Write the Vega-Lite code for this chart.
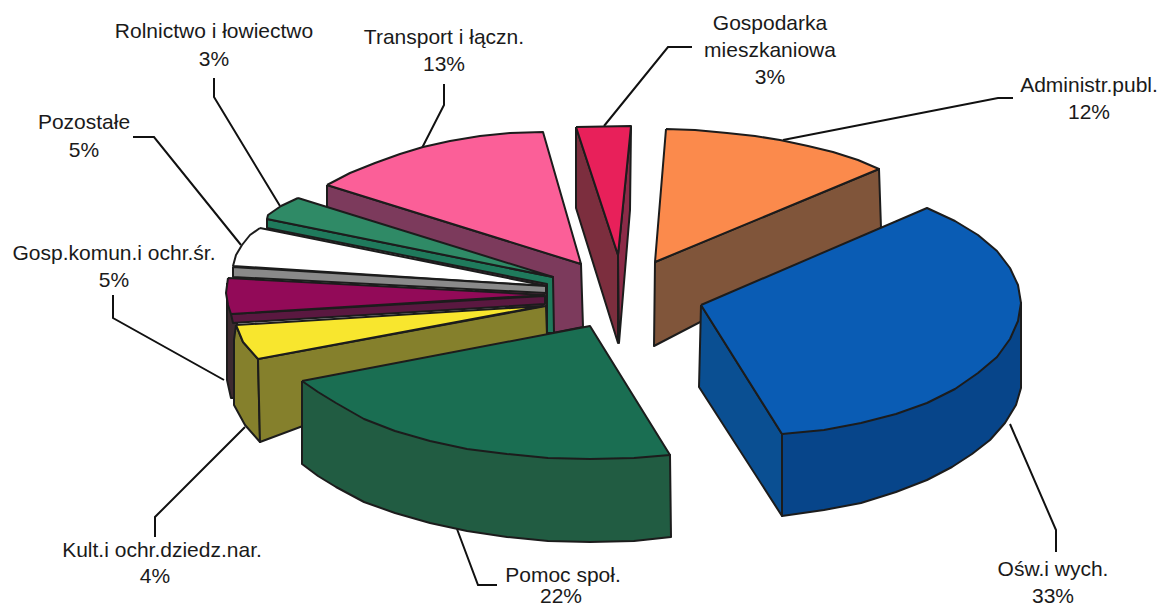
{"$schema":"https://vega.github.io/schema/vega-lite/v6.json","width":1163,"height":609,"padding":0,"autosize":"none","background":"#ffffff","view":{"stroke":null},
"layer":[
{"data":{"values":[
{"l":"Rolnictwo","s":1,"x":214,"y":78},{"l":"Rolnictwo","s":2,"x":214,"y":97},{"l":"Rolnictwo","s":3,"x":280,"y":206},
{"l":"Transport","s":1,"x":444,"y":84},{"l":"Transport","s":2,"x":444,"y":105},{"l":"Transport","s":3,"x":422,"y":148},
{"l":"Pozostałe","s":1,"x":133,"y":137},{"l":"Pozostałe","s":2,"x":154,"y":137},{"l":"Pozostałe","s":3,"x":241,"y":245},
{"l":"Gosp.komun","s":1,"x":113,"y":295},{"l":"Gosp.komun","s":2,"x":113,"y":318},{"l":"Gosp.komun","s":3,"x":224,"y":380},
{"l":"Gospodarka","s":1,"x":692,"y":47},{"l":"Gospodarka","s":2,"x":668,"y":47},{"l":"Gospodarka","s":3,"x":604,"y":126},
{"l":"Administr","s":1,"x":1013,"y":98},{"l":"Administr","s":2,"x":998,"y":98},{"l":"Administr","s":3,"x":783,"y":140},
{"l":"Oświata","s":1,"x":1010,"y":424},{"l":"Oświata","s":2,"x":1056,"y":530},{"l":"Oświata","s":3,"x":1056,"y":552},
{"l":"Pomoc","s":1,"x":457,"y":529},{"l":"Pomoc","s":2,"x":478,"y":585},{"l":"Pomoc","s":3,"x":497,"y":585},
{"l":"Kultura","s":1,"x":245,"y":427},{"l":"Kultura","s":2,"x":155,"y":517},{"l":"Kultura","s":3,"x":155,"y":537}
]},
"mark":{"type":"line","stroke":"#111111","strokeWidth":2},
"encoding":{"x":{"field":"x","type":"quantitative","axis":null,"scale":{"domain":[0,1163],"nice":false,"zero":false}},"y":{"field":"y","type":"quantitative","axis":null,"scale":{"domain":[609,0],"nice":false,"zero":false}},"detail":{"field":"l"},"order":{"field":"s"}}},
{"data":{"values":[
{"f":"01 Transport bok","s":1,"x":327,"y":185},{"f":"01 Transport bok","s":2,"x":581,"y":264},{"f":"01 Transport bok","s":3,"x":583,"y":327},{"f":"01 Transport bok","s":4,"x":553,"y":333},{"f":"01 Transport bok","s":5,"x":327,"y":207},{"f":"01 Transport bok","s":6,"x":327,"y":185},
{"f":"02 Transport","s":1,"x":327,"y":185},{"f":"02 Transport","s":2,"x":350,"y":173},{"f":"02 Transport","s":3,"x":375,"y":163},{"f":"02 Transport","s":4,"x":400,"y":154},{"f":"02 Transport","s":5,"x":423,"y":147},{"f":"02 Transport","s":6,"x":450,"y":141},{"f":"02 Transport","s":7,"x":480,"y":136},{"f":"02 Transport","s":8,"x":510,"y":133},{"f":"02 Transport","s":9,"x":543,"y":132},{"f":"02 Transport","s":10,"x":581,"y":264},{"f":"02 Transport","s":11,"x":327,"y":185},
{"f":"03 Rolnictwo bok","s":1,"x":267,"y":219},{"f":"03 Rolnictwo bok","s":2,"x":553,"y":277},{"f":"03 Rolnictwo bok","s":3,"x":554,"y":333},{"f":"03 Rolnictwo bok","s":4,"x":547,"y":333},{"f":"03 Rolnictwo bok","s":5,"x":547,"y":284},{"f":"03 Rolnictwo bok","s":6,"x":267,"y":228},{"f":"03 Rolnictwo bok","s":7,"x":267,"y":219},
{"f":"04 Rolnictwo","s":1,"x":298,"y":198},{"f":"04 Rolnictwo","s":2,"x":281,"y":206},{"f":"04 Rolnictwo","s":3,"x":268,"y":215},{"f":"04 Rolnictwo","s":4,"x":267,"y":219},{"f":"04 Rolnictwo","s":5,"x":553,"y":277},{"f":"04 Rolnictwo","s":6,"x":298,"y":198},
{"f":"05 Pozostałe","s":1,"x":260,"y":228},{"f":"05 Pozostałe","s":2,"x":250,"y":235},{"f":"05 Pozostałe","s":3,"x":242,"y":245},{"f":"05 Pozostałe","s":4,"x":236,"y":255},{"f":"05 Pozostałe","s":5,"x":233,"y":266},{"f":"05 Pozostałe","s":6,"x":547,"y":286},{"f":"05 Pozostałe","s":7,"x":260,"y":228},
{"f":"06 Pozostałe bok","s":1,"x":233,"y":267},{"f":"06 Pozostałe bok","s":2,"x":546,"y":286},{"f":"06 Pozostałe bok","s":3,"x":546,"y":293},{"f":"06 Pozostałe bok","s":4,"x":233,"y":277},{"f":"06 Pozostałe bok","s":5,"x":233,"y":267},
{"f":"07 Gosp.komun lewy","s":1,"x":227,"y":283},{"f":"07 Gosp.komun lewy","s":2,"x":227,"y":380},{"f":"07 Gosp.komun lewy","s":3,"x":231,"y":398},{"f":"07 Gosp.komun lewy","s":4,"x":237,"y":398},{"f":"07 Gosp.komun lewy","s":5,"x":237,"y":320},{"f":"07 Gosp.komun lewy","s":6,"x":227,"y":283},
{"f":"08 Gosp.komun bok","s":1,"x":231,"y":314},{"f":"08 Gosp.komun bok","s":2,"x":545,"y":296},{"f":"08 Gosp.komun bok","s":3,"x":545,"y":304},{"f":"08 Gosp.komun bok","s":4,"x":233,"y":323},{"f":"08 Gosp.komun bok","s":5,"x":231,"y":314},
{"f":"09 Gosp.komun","s":1,"x":228,"y":278},{"f":"09 Gosp.komun","s":2,"x":226,"y":293},{"f":"09 Gosp.komun","s":3,"x":228,"y":305},{"f":"09 Gosp.komun","s":4,"x":231,"y":314},{"f":"09 Gosp.komun","s":5,"x":545,"y":295},{"f":"09 Gosp.komun","s":6,"x":228,"y":278},
{"f":"10 Kultura lewy","s":1,"x":236,"y":325},{"f":"10 Kultura lewy","s":2,"x":243,"y":342},{"f":"10 Kultura lewy","s":3,"x":258,"y":359},{"f":"10 Kultura lewy","s":4,"x":260,"y":442},{"f":"10 Kultura lewy","s":5,"x":245,"y":425},{"f":"10 Kultura lewy","s":6,"x":234,"y":405},{"f":"10 Kultura lewy","s":7,"x":234,"y":340},{"f":"10 Kultura lewy","s":8,"x":236,"y":325},
{"f":"11 Kultura bok","s":1,"x":258,"y":359},{"f":"11 Kultura bok","s":2,"x":546,"y":306},{"f":"11 Kultura bok","s":3,"x":547,"y":335},{"f":"11 Kultura bok","s":4,"x":260,"y":442},{"f":"11 Kultura bok","s":5,"x":258,"y":359},
{"f":"12 Kultura","s":1,"x":236,"y":325},{"f":"12 Kultura","s":2,"x":243,"y":342},{"f":"12 Kultura","s":3,"x":258,"y":359},{"f":"12 Kultura","s":4,"x":543,"y":306},{"f":"12 Kultura","s":5,"x":236,"y":325},
{"f":"13 Gospodarka lewy","s":1,"x":576,"y":127},{"f":"13 Gospodarka lewy","s":2,"x":576,"y":208},{"f":"13 Gospodarka lewy","s":3,"x":618,"y":343},{"f":"13 Gospodarka lewy","s":4,"x":618,"y":255},{"f":"13 Gospodarka lewy","s":5,"x":576,"y":127},
{"f":"14 Gospodarka prawy","s":1,"x":631,"y":126},{"f":"14 Gospodarka prawy","s":2,"x":630,"y":210},{"f":"14 Gospodarka prawy","s":3,"x":619,"y":343},{"f":"14 Gospodarka prawy","s":4,"x":618,"y":255},{"f":"14 Gospodarka prawy","s":5,"x":631,"y":126},
{"f":"15 Gospodarka","s":1,"x":576,"y":127},{"f":"15 Gospodarka","s":2,"x":631,"y":126},{"f":"15 Gospodarka","s":3,"x":618,"y":255},{"f":"15 Gospodarka","s":4,"x":576,"y":127},
{"f":"16 Administr bok","s":1,"x":655,"y":262},{"f":"16 Administr bok","s":2,"x":879,"y":169},{"f":"16 Administr bok","s":3,"x":881,"y":228},{"f":"16 Administr bok","s":4,"x":654,"y":346},{"f":"16 Administr bok","s":5,"x":655,"y":262},
{"f":"17 Administr","s":1,"x":666,"y":129},{"f":"17 Administr","s":2,"x":695,"y":130},{"f":"17 Administr","s":3,"x":727,"y":133},{"f":"17 Administr","s":4,"x":755,"y":136},{"f":"17 Administr","s":5,"x":780,"y":140},{"f":"17 Administr","s":6,"x":808,"y":146},{"f":"17 Administr","s":7,"x":833,"y":152},{"f":"17 Administr","s":8,"x":858,"y":160},{"f":"17 Administr","s":9,"x":879,"y":169},{"f":"17 Administr","s":10,"x":655,"y":262},{"f":"17 Administr","s":11,"x":666,"y":129},
{"f":"18 Oświata lewy","s":1,"x":701,"y":305},{"f":"18 Oświata lewy","s":2,"x":782,"y":434},{"f":"18 Oświata lewy","s":3,"x":782,"y":516},{"f":"18 Oświata lewy","s":4,"x":699,"y":387},{"f":"18 Oświata lewy","s":5,"x":701,"y":305},
{"f":"19 Oświata bok","s":1,"x":782,"y":434},{"f":"19 Oświata bok","s":2,"x":782,"y":516},{"f":"19 Oświata bok","s":3,"x":824,"y":510},{"f":"19 Oświata bok","s":4,"x":861,"y":503},{"f":"19 Oświata bok","s":5,"x":896,"y":492},{"f":"19 Oświata bok","s":6,"x":927,"y":480},{"f":"19 Oświata bok","s":7,"x":952,"y":467},{"f":"19 Oświata bok","s":8,"x":972,"y":454},{"f":"19 Oświata bok","s":9,"x":990,"y":440},{"f":"19 Oświata bok","s":10,"x":1005,"y":423},{"f":"19 Oświata bok","s":11,"x":1016,"y":405},{"f":"19 Oświata bok","s":12,"x":1021,"y":388},{"f":"19 Oświata bok","s":13,"x":1021,"y":303},{"f":"19 Oświata bok","s":14,"x":782,"y":434},
{"f":"20 Oświata","s":1,"x":701,"y":305},{"f":"20 Oświata","s":2,"x":927,"y":208},{"f":"20 Oświata","s":3,"x":955,"y":221},{"f":"20 Oświata","s":4,"x":978,"y":235},{"f":"20 Oświata","s":5,"x":997,"y":251},{"f":"20 Oświata","s":6,"x":1010,"y":268},{"f":"20 Oświata","s":7,"x":1018,"y":285},{"f":"20 Oświata","s":8,"x":1021,"y":303},{"f":"20 Oświata","s":9,"x":1018,"y":321},{"f":"20 Oświata","s":10,"x":1010,"y":339},{"f":"20 Oświata","s":11,"x":997,"y":357},{"f":"20 Oświata","s":12,"x":978,"y":373},{"f":"20 Oświata","s":13,"x":955,"y":389},{"f":"20 Oświata","s":14,"x":927,"y":403},{"f":"20 Oświata","s":15,"x":896,"y":414},{"f":"20 Oświata","s":16,"x":861,"y":423},{"f":"20 Oświata","s":17,"x":824,"y":430},{"f":"20 Oświata","s":18,"x":782,"y":434},{"f":"20 Oświata","s":19,"x":701,"y":305},
{"f":"21 Pomoc bok","s":1,"x":302,"y":381},{"f":"21 Pomoc bok","s":2,"x":302,"y":464},{"f":"21 Pomoc bok","s":3,"x":318,"y":476},{"f":"21 Pomoc bok","s":4,"x":336,"y":487},{"f":"21 Pomoc bok","s":5,"x":364,"y":502},{"f":"21 Pomoc bok","s":6,"x":395,"y":513},{"f":"21 Pomoc bok","s":7,"x":430,"y":523},{"f":"21 Pomoc bok","s":8,"x":467,"y":531},{"f":"21 Pomoc bok","s":9,"x":507,"y":537},{"f":"21 Pomoc bok","s":10,"x":548,"y":541},{"f":"21 Pomoc bok","s":11,"x":590,"y":542},{"f":"21 Pomoc bok","s":12,"x":634,"y":541},{"f":"21 Pomoc bok","s":13,"x":671,"y":537},{"f":"21 Pomoc bok","s":14,"x":670,"y":455},{"f":"21 Pomoc bok","s":15,"x":302,"y":381},
{"f":"22 Pomoc","s":1,"x":302,"y":381},{"f":"22 Pomoc","s":2,"x":590,"y":326},{"f":"22 Pomoc","s":3,"x":670,"y":455},{"f":"22 Pomoc","s":4,"x":634,"y":458},{"f":"22 Pomoc","s":5,"x":590,"y":459},{"f":"22 Pomoc","s":6,"x":548,"y":458},{"f":"22 Pomoc","s":7,"x":507,"y":454},{"f":"22 Pomoc","s":8,"x":467,"y":449},{"f":"22 Pomoc","s":9,"x":430,"y":441},{"f":"22 Pomoc","s":10,"x":395,"y":431},{"f":"22 Pomoc","s":11,"x":364,"y":419},{"f":"22 Pomoc","s":12,"x":336,"y":403},{"f":"22 Pomoc","s":13,"x":318,"y":392},{"f":"22 Pomoc","s":14,"x":302,"y":381}
]},
"mark":{"type":"line","stroke":"#1c1c1c","strokeWidth":2,"strokeJoin":"round"},
"encoding":{"x":{"field":"x","type":"quantitative"},"y":{"field":"y","type":"quantitative"},"detail":{"field":"f"},"order":{"field":"s"},
"fill":{"field":"f","type":"nominal","legend":null,"scale":{"domain":["01 Transport bok","02 Transport","03 Rolnictwo bok","04 Rolnictwo","05 Pozostałe","06 Pozostałe bok","07 Gosp.komun lewy","08 Gosp.komun bok","09 Gosp.komun","10 Kultura lewy","11 Kultura bok","12 Kultura","13 Gospodarka lewy","14 Gospodarka prawy","15 Gospodarka","16 Administr bok","17 Administr","18 Oświata lewy","19 Oświata bok","20 Oświata","21 Pomoc bok","22 Pomoc"],"range":["#7c3a5c","#fb5f98","#1f7a5c","#2f8a66","#ffffff","#8a8a8a","#3d2a30","#5a1840","#920a58","#85802c","#85802c","#f8e62e","#7c2e3e","#8c2b48","#e8205a","#80553a","#fb8a4c","#0a4f92","#07458a","#0a5cb4","#215c42","#1a6e52"]}}}},
{"data":{"values":[
{"t":"Rolnictwo i łowiectwo","x":214,"y":38},{"t":"3%","x":214,"y":66},
{"t":"Transport i łączn.","x":444,"y":44},{"t":"13%","x":444,"y":71},
{"t":"Gospodarka","x":770,"y":30},{"t":"mieszkaniowa","x":770,"y":57},{"t":"3%","x":770,"y":84},
{"t":"Administr.publ.","x":1089,"y":92},{"t":"12%","x":1089,"y":119},
{"t":"Pozostałe","x":84,"y":129},{"t":"5%","x":84,"y":157},
{"t":"Gosp.komun.i ochr.śr.","x":114,"y":260},{"t":"5%","x":114,"y":287},
{"t":"Kult.i ochr.dziedz.nar.","x":162,"y":557},{"t":"4%","x":155,"y":583},
{"t":"Pomoc społ.","x":563,"y":582},{"t":"22%","x":561,"y":603},
{"t":"Ośw.i wych.","x":1053,"y":576},{"t":"33%","x":1053,"y":603}
]},
"mark":{"type":"text","font":"Liberation Sans","fontSize":21,"align":"center","baseline":"alphabetic","color":"#1a1a1a"},
"encoding":{"x":{"field":"x","type":"quantitative"},"y":{"field":"y","type":"quantitative"},"text":{"field":"t"}}}
]}
